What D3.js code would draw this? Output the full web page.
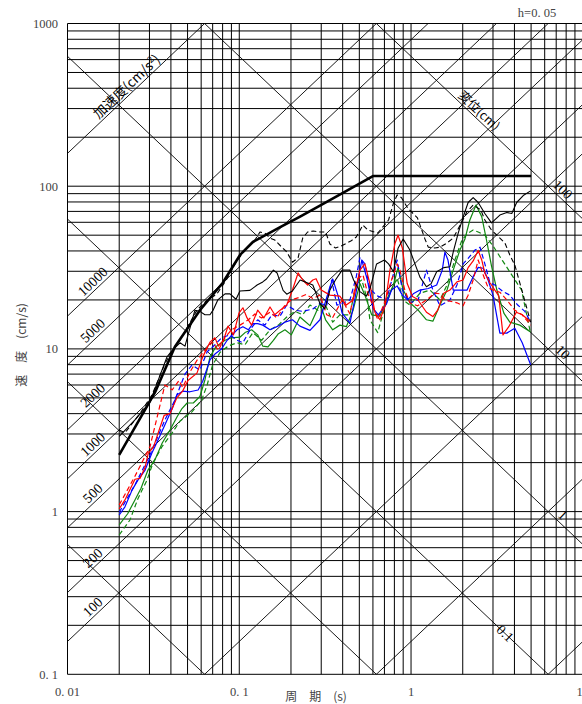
<!DOCTYPE html>
<html><head><meta charset="utf-8">
<script src="https://cdn.jsdelivr.net/npm/d3@7"></script>
<style>body{margin:0;background:#fff}svg{display:block}</style>
</head><body>
<script>
// ---------- axes / labels ----------
const periodDomain = [0.01, 10];
const velocityDomain = [0.1, 1000];
const xTickLabels = [[0.01, "0. 01"], [0.1, "0. 1"], [1, "1"], [10, "10"]];
const yTickLabels = [[1000, "1000"], [100, "100"], [10, "10"], [1, "1"], [0.1, "0. 1"]];
const accelLines = [0.1, 1, 10, 100, 200, 500, 1000, 2000, 5000, 10000, 100000];
const dispLines = [0.001, 0.01, 0.1, 1, 10, 100];
const accelLabels = [100, 200, 500, 1000, 2000, 5000, 10000];
const dispLabels = [100, 10, 1, 0.1];

// ---------- data (period s, velocity cm/s) ----------
const design = [[0.02,2.23],[0.0323,5.4],[0.0422,10.3],[0.059,17.3],[0.080,25.4],[0.101,37.8],[0.12,45.4],[0.173,56],[0.226,65],[0.337,82],[0.60,115.5],[5.0,115.5]];
const blackSolid = [[0.02,2.9],[0.0247,3.66],[0.0302,4.7],[0.0346,6.9],[0.0379,8.9],[0.0407,9.8],[0.0452,10.9],[0.0483,10.4],[0.0552,17.3],[0.059,17],[0.0631,16.2],[0.0675,16.2],[0.0704,17.3],[0.075,20],[0.0826,21.8],[0.0883,21.8],[0.0957,20.2],[0.1009,22.7],[0.1154,22.9],[0.127,24.7],[0.137,25.8],[0.144,26.9],[0.158,30.5],[0.166,29.3],[0.18,22.9],[0.189,21.7],[0.204,22.7],[0.226,26.5],[0.268,24.7],[0.295,19],[0.315,17.6],[0.337,23],[0.363,26.5],[0.397,30.5],[0.441,30.5],[0.463,26.5],[0.504,22.5],[0.55,21.1],[0.576,23.3],[0.63,33.3],[0.70,35.2],[0.74,33.3],[0.79,29.8],[0.84,41.5],[0.90,47.4],[0.985,40.5],[1.054,33.3],[1.127,27.6],[1.23,24.1],[1.31,25.2],[1.41,29.8],[1.55,31.6],[1.684,32],[1.76,39.3],[1.88,51.3],[2.01,64.5],[2.15,79.4],[2.30,85.2],[2.46,79.4],[2.69,67.9],[2.94,59.5],[3.29,66.5],[3.61,68.9],[3.86,67.9],[4.12,79.4],[4.5,87.6],[4.97,93.6]];
const blackDashed = [[0.02,3.17],[0.0216,3.05],[0.0264,4.0],[0.031,5.2],[0.0369,8.1],[0.0407,9.8],[0.0452,11.3],[0.0567,17.3],[0.065,20],[0.074,21.7],[0.084,26.5],[0.0957,34.1],[0.105,38.9],[0.1154,43.5],[0.1234,46.7],[0.132,52.3],[0.141,51.5],[0.151,48],[0.161,46.7],[0.176,42.4],[0.189,39.5],[0.204,34.1],[0.22,36.3],[0.234,48],[0.25,52.3],[0.27,53],[0.295,52.3],[0.318,52.3],[0.337,44.1],[0.363,41.7],[0.39,42.8],[0.446,46],[0.48,48.7],[0.525,57.7],[0.56,53.8],[0.64,51.5],[0.70,57.7],[0.74,62],[0.79,78.6],[0.83,88.3],[0.88,85],[0.955,73.5],[1.09,63.8],[1.205,47.4],[1.26,42.2],[1.377,41.7],[1.473,42.2],[1.62,44.8],[1.76,48],[1.98,60.4],[2.12,69.8],[2.30,76.6],[2.55,71.4],[2.69,62],[2.94,53.8],[3.2,49.4],[3.52,44.8],[3.76,37.8],[4.02,32.8],[4.5,21.4],[4.97,14.6]];
const redSolid = [[0.02,1.04],[0.0216,1.18],[0.0247,1.58],[0.0264,1.6],[0.0283,1.87],[0.0295,2.28],[0.0317,2.5],[0.0339,3.1],[0.0365,3.9],[0.0395,4.0],[0.0433,5.0],[0.0468,5.5],[0.0503,6.4],[0.0567,7.1],[0.0612,8.9],[0.0675,11.0],[0.0722,11.7],[0.0756,10.4],[0.081,11.3],[0.086,13.8],[0.0925,12.2],[0.0996,16.6],[0.105,17.9],[0.111,15.5],[0.118,14],[0.128,17.3],[0.139,15.5],[0.151,18.1],[0.161,16.2],[0.173,17.3],[0.189,18.6],[0.204,23],[0.22,29.3],[0.234,26.5],[0.25,24.7],[0.268,26.5],[0.28,27],[0.30,23],[0.337,21.4],[0.385,21.1],[0.42,18.6],[0.46,20],[0.504,30.5],[0.539,33.3],[0.576,25.2],[0.616,16.8],[0.659,15.1],[0.705,18.3],[0.754,30.5],[0.806,44.4],[0.84,50],[0.89,41.7],[0.95,25.2],[1.02,21],[1.09,20.2],[1.23,16.8],[1.34,15.8],[1.43,17.3],[1.55,22],[1.684,23],[1.85,25.8],[2.01,26.5],[2.15,31.6],[2.30,34.7],[2.46,40.3],[2.58,35.2],[2.69,29.2],[2.88,25.5],[3.24,21.2],[3.43,12.2],[3.71,13.7],[4.1,16.8],[4.44,16.2],[4.97,14.7]];
const redDashed = [[0.02,1.1],[0.0247,1.65],[0.0302,2.5],[0.0369,6.0],[0.0407,5.6],[0.0446,6.4],[0.0468,5.8],[0.0516,7.2],[0.0567,8.5],[0.0631,9.8],[0.0699,11.0],[0.0756,9.8],[0.082,11.6],[0.09,13.1],[0.1009,14.0],[0.113,15.1],[0.1234,16.4],[0.135,15.5],[0.151,16.8],[0.1656,15.5],[0.1845,18.6],[0.201,20],[0.2256,20.8],[0.245,21.6],[0.268,20.4],[0.295,21.4],[0.323,16.2],[0.35,15.6],[0.397,20],[0.441,16.4],[0.48,26.5],[0.525,28.5],[0.557,22.3],[0.59,19.2],[0.64,15.1],[0.705,19.6],[0.77,26.5],[0.83,33.3],[0.8615,30.5],[0.92,23],[0.985,19.2],[1.09,18.4],[1.23,20],[1.377,22],[1.473,21.8],[1.575,20],[1.85,19.2],[2.01,18.4],[2.15,21.4],[2.30,26.5],[2.46,35.2],[2.63,28.5],[2.81,23.8],[3.0,23],[3.29,22.3],[3.61,20],[4.02,17.3],[4.44,16.2],[4.97,14]];
const blueSolid = [[0.02,0.953],[0.0216,1.07],[0.0238,1.36],[0.0257,1.56],[0.0283,1.8],[0.031,2.29],[0.0332,2.67],[0.0356,3.14],[0.038,3.66],[0.0407,4.3],[0.0433,5.21],[0.0468,5.5],[0.0516,5.45],[0.0576,5.59],[0.0612,6.3],[0.0675,8.55],[0.0722,9.3],[0.0788,9.98],[0.085,11.3],[0.097,13.1],[0.105,13.7],[0.113,13.1],[0.12,14.3],[0.128,14.3],[0.137,14],[0.151,13.1],[0.1656,13.7],[0.1845,14.6],[0.204,15.1],[0.2256,13.8],[0.258,13],[0.295,15.1],[0.337,24],[0.35,26.9],[0.375,21.4],[0.397,16.6],[0.441,14.4],[0.47,20],[0.517,35.2],[0.557,26.5],[0.6,17.8],[0.645,16.2],[0.72,18.9],[0.77,23],[0.83,24.4],[0.89,21.4],[0.955,20],[1.03,21.8],[1.127,23],[1.26,23.5],[1.41,24.7],[1.52,30.5],[1.575,39.3],[1.64,35.2],[1.76,23],[1.925,23],[2.12,23],[2.30,27.8],[2.46,31.7],[2.63,31.3],[2.81,26.5],[3.0,21.4],[3.29,12.5],[3.61,12.5],[4.02,13.4],[4.44,10.9],[4.97,8.0]];
const blueDashed = [[0.02,0.99],[0.0247,1.46],[0.0302,2.23],[0.0369,3.66],[0.0422,4.85],[0.0483,7.0],[0.053,7.96],[0.059,7.4],[0.065,9.6],[0.0722,10.6],[0.0788,11.7],[0.0883,12.2],[0.097,11.3],[0.105,10.9],[0.1154,13.1],[0.128,15.1],[0.141,14],[0.155,16.2],[0.1726,15.9],[0.189,18.6],[0.211,17.3],[0.234,17],[0.268,17.6],[0.295,19],[0.323,18.6],[0.345,26.5],[0.37,18.6],[0.397,19],[0.441,20],[0.48,27.8],[0.504,36.3],[0.539,33.3],[0.576,23.3],[0.64,21.1],[0.72,20],[0.83,35.2],[0.89,23],[0.985,19.2],[1.10,20],[1.23,30.5],[1.34,23],[1.473,18.4],[1.684,20],[1.85,24.7],[2.01,33.3],[2.15,36],[2.354,40.5],[2.52,42.2],[2.69,33.3],[2.88,25.5],[3.08,24.7],[3.43,22.5],[3.76,21.4],[4.18,18.6],[4.6,17],[4.97,14.6]];
const greenSolid = [[0.02,0.83],[0.0224,0.97],[0.0247,1.18],[0.0268,1.39],[0.0294,1.8],[0.0323,2.08],[0.0356,2.64],[0.0395,3.17],[0.0433,3.8],[0.0464,4.3],[0.0497,4.65],[0.054,4.65],[0.059,5.1],[0.0631,6.44],[0.0675,8.9],[0.073,10.3],[0.0826,11.3],[0.090,11.7],[0.1009,11.8],[0.108,12.6],[0.118,13.1],[0.128,12.2],[0.137,10.4],[0.147,10.3],[0.158,11.3],[0.169,12.4],[0.1845,13.1],[0.201,12.2],[0.2256,15.7],[0.241,14.8],[0.258,13.9],[0.276,16.2],[0.295,19],[0.318,15.1],[0.35,13.1],[0.3855,14],[0.42,13.7],[0.46,17.3],[0.504,25.2],[0.539,21.4],[0.59,16.2],[0.659,15.9],[0.72,20],[0.79,24.7],[0.84,31.6],[0.90,23],[0.985,19.2],[1.10,17.3],[1.23,15.1],[1.34,14.8],[1.52,20],[1.62,23],[1.76,30.5],[1.925,40.5],[2.06,47.4],[2.20,62],[2.39,76.6],[2.58,65],[2.75,46.7],[2.94,32.4],[3.16,23],[3.47,16.6],[3.76,14.6],[4.3,14],[4.97,12.7]];
const greenDashed = [[0.02,0.718],[0.0231,0.888],[0.0257,1.2],[0.029,1.56],[0.0315,2.0],[0.0356,2.52],[0.0407,3.05],[0.0452,3.6],[0.053,4.1],[0.0604,4.85],[0.065,6.0],[0.0699,7.96],[0.0772,9.5],[0.086,10.4],[0.097,10.9],[0.108,10.6],[0.12,12.6],[0.135,11.3],[0.151,13.1],[0.169,14],[0.189,15.7],[0.211,17],[0.234,16.2],[0.258,18.6],[0.287,17.3],[0.315,19],[0.35,14.6],[0.3855,16.2],[0.44,16.2],[0.48,25.2],[0.517,26.5],[0.557,20],[0.576,15.1],[0.64,12.6],[0.705,18.3],[0.77,23],[0.83,27.2],[0.90,20],[0.985,18.6],[1.127,22],[1.288,23],[1.473,20],[1.62,24.7],[1.8,35.2],[1.98,46.7],[2.15,51.5],[2.30,53.8],[2.46,52.3],[2.69,50],[3.0,43],[3.4,35],[3.9,28],[4.4,23],[4.97,12.4]];

const series = [
  {d: greenDashed, c: "#118811", dash: "5,3", w: 1.2},
  {d: greenSolid, c: "#118811", dash: null, w: 1.2},
  {d: blueDashed, c: "#0000ff", dash: "5,3", w: 1.2},
  {d: blueSolid, c: "#0000ff", dash: null, w: 1.2},
  {d: redDashed, c: "#ff0000", dash: "5,3", w: 1.2},
  {d: redSolid, c: "#ff0000", dash: null, w: 1.2},
  {d: blackDashed, c: "#000", dash: "5,3", w: 1.1},
  {d: blackSolid, c: "#000", dash: null, w: 1.1},
  {d: design, c: "#000", dash: null, w: 2.6}
];

const W = 582, H = 704;
const x = d3.scaleLog().domain(periodDomain).range([67.5, 582.8]);
const y = d3.scaleLog().domain(velocityDomain).range([674.3, 23.5]);
const serif = "'Liberation Serif','DejaVu Serif',serif";
const cjk = "'Noto Sans CJK JP','Noto Sans CJK SC',sans-serif";

const svg = d3.select("body").append("svg").attr("width", W).attr("height", H);
svg.append("defs").append("clipPath").attr("id", "plot")
  .append("rect").attr("x", x(periodDomain[0])).attr("y", y(velocityDomain[1]))
  .attr("width", x(periodDomain[1]) - x(periodDomain[0])).attr("height", y(velocityDomain[0]) - y(velocityDomain[1]));

const grid = svg.append("g").attr("stroke", "#000").attr("stroke-width", 1);
x.ticks(30).forEach(t => grid.append("line").attr("x1", x(t)).attr("x2", x(t)).attr("y1", y(velocityDomain[0])).attr("y2", y(velocityDomain[1])));
y.ticks(40).forEach(v => grid.append("line").attr("y1", y(v)).attr("y2", y(v)).attr("x1", x(periodDomain[0])).attr("x2", x(periodDomain[1])));

const diag = svg.append("g").attr("clip-path", "url(#plot)").attr("stroke", "#000").attr("stroke-width", 0.9);
const TP = 2 * Math.PI;
accelLines.forEach(a => {
  const t0 = 0.001, t1 = 100;
  diag.append("line").attr("x1", x(t0)).attr("y1", y(a * t0 / TP)).attr("x2", x(t1)).attr("y2", y(a * t1 / TP));
});
dispLines.forEach(dv => {
  const t0 = 0.001, t1 = 100;
  diag.append("line").attr("x1", x(t0)).attr("y1", y(TP * dv / t0)).attr("x2", x(t1)).attr("y2", y(TP * dv / t1));
});

const ang = Math.atan((y(1) - y(10)) / (x(10) - x(1))) * 180 / Math.PI;
const lab = svg.append("g").attr("fill", "#000").attr("font-family", serif).attr("font-size", 14);
accelLabels.forEach(a => {
  const t = x.invert(98), v = a * t / TP;
  lab.append("text").attr("transform", `translate(${x(t)},${y(v)}) rotate(${-ang})`)
    .attr("y", -3).attr("text-anchor", "middle").text(a);
});
{
  const t = x.invert(132), v = 100000 * t / TP;
  const tx = lab.append("text").attr("transform", `translate(${x(t)},${y(v)}) rotate(${-ang})`)
    .attr("y", -3).attr("text-anchor", "middle").attr("font-family", cjk).attr("font-size", 13.5);
  tx.append("tspan").text("加速度(cm/s");
  tx.append("tspan").attr("font-size", 9).attr("dy", -5).text("2");
  tx.append("tspan").attr("dy", 5).text(")");
}
dispLabels.forEach(dv => {
  const px = dv === 0.1 ? 505 : 557.5;
  const t = x.invert(px), v = TP * dv / t;
  lab.append("text").attr("transform", `translate(${x(t)},${y(v)}) rotate(${ang})`)
    .attr("y", dv === 0.1 ? 4.5 : -3).attr("text-anchor", "middle").text(dv);
});
{
  const t = x.invert(474), v = TP * 100 / t;
  lab.append("text").attr("transform", `translate(${x(t)},${y(v)}) rotate(${ang})`)
    .attr("y", -3).attr("text-anchor", "middle").attr("font-family", cjk).attr("font-size", 12.5).text("変位(cm)");
}

// data
const line = d3.line().x(d => x(d[0])).y(d => y(d[1]));
series.forEach(s => {
  svg.append("path").attr("d", line(s.d)).attr("fill", "none").attr("stroke", s.c)
    .attr("stroke-width", s.w).attr("stroke-dasharray", s.dash).attr("stroke-linejoin", "round");
});

// tick labels
const tl = svg.append("g").attr("fill", "#444").attr("font-family", serif).attr("font-size", 12.5);
yTickLabels.forEach(([v, t]) => tl.append("text").attr("x", 58).attr("y", y(v)).attr("dy", "0.35em").attr("text-anchor", "end").text(t));
xTickLabels.forEach(([v, t]) => tl.append("text").attr("x", x(v)).attr("y", 692).attr("dy", "0.35em").attr("text-anchor", "middle").text(t));

svg.append("text").attr("x", 316).attr("y", 697).attr("dy", "0.35em").attr("text-anchor", "middle")
  .attr("font-family", cjk).attr("font-size", 12).attr("fill", "#444").text("周　期　(s)");
svg.append("text").attr("transform", "translate(22,345) rotate(-90)").attr("dy", "0.35em").attr("text-anchor", "middle")
  .attr("font-family", cjk).attr("font-size", 12).attr("fill", "#444").text("速　度　(cm/s)");
svg.append("text").attr("x", 537).attr("y", 13).attr("dy", "0.35em").attr("text-anchor", "middle")
  .attr("font-family", serif).attr("font-size", 12.5).attr("fill", "#444").text("h=0. 05");
</script>
</body></html>
